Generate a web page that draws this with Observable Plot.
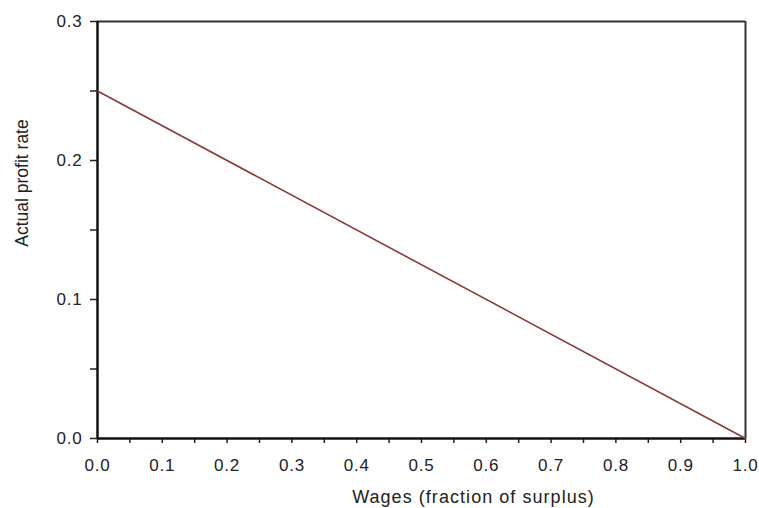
<!DOCTYPE html>
<html>
<head>
<meta charset="utf-8">
<script src="https://cdn.jsdelivr.net/npm/d3@7"></script>
<script src="https://cdn.jsdelivr.net/npm/@observablehq/plot@0.6"></script>
<style>
  html, body { margin: 0; padding: 0; background: #fff; }
  #chart svg { display: block; }
</style>
</head>
<body>
<div id="chart"></div>
<script>
// Data
const wages = [0, 1];
const profitRate = [0.25, 0];

// Tick values
const xMajorTicks = [0, 0.1, 0.2, 0.3, 0.4, 0.5, 0.6, 0.7, 0.8, 0.9, 1.0];
const xMinorTicks = [0.05, 0.15, 0.25, 0.35, 0.45, 0.55, 0.65, 0.75, 0.85, 0.95];
const yMajorTicks = [0, 0.1, 0.2, 0.3];
const yMinorTicks = [0.05, 0.15, 0.25];

const xLabel = "Wages (fraction of surplus)";
const yLabel = "Actual profit rate";

const data = wages.map((w, i) => ({wage: w, rate: profitRate[i]}));

const chart = Plot.plot({
  width: 759,
  height: 508,
  marginTop: 21,
  marginRight: 14,
  marginBottom: 70,
  marginLeft: 97,
  style: {fontFamily: "'Liberation Sans', Arial, sans-serif", background: "#fff", color: "#111"},
  x: {domain: [0, 1], label: null},
  y: {domain: [0, 0.3], label: null},
  marks: [
    // frame top/right
    Plot.ruleY([0.3], {stroke: "#333", strokeWidth: 2}),
    Plot.ruleX([1], {stroke: "#333", strokeWidth: 2}),
    // axes
    Plot.axisX({ticks: xMinorTicks, tickSize: 5, text: null, label: null, strokeWidth: 1.5, stroke: "#222"}),
    Plot.axisX({ticks: xMajorTicks, tickSize: 5, tickPadding: 15, tickFormat: d3.format(".1f"), fontSize: 17, strokeWidth: 1.5, stroke: "#222", fill: "#222", label: null}),
    Plot.axisY({ticks: yMinorTicks, tickSize: 7, text: null, label: null, strokeWidth: 1.5, stroke: "#222"}),
    Plot.axisY({ticks: yMajorTicks, tickSize: 7, tickPadding: 8, tickFormat: d3.format(".1f"), fontSize: 17, strokeWidth: 1.5, stroke: "#222", fill: "#222", label: null}),
    Plot.ruleX([0], {stroke: "#111", strokeWidth: 2.5}),
    Plot.ruleY([0], {stroke: "#111", strokeWidth: 2.5}),
    // data line
    Plot.line(data, {x: "wage", y: "rate", stroke: "#8a3a3a", strokeWidth: 1.6}),
    // axis titles
    Plot.text([xLabel], {frameAnchor: "bottom", dx: 52, dy: 59, text: d => d, fontSize: 18, fill: "#222", textAnchor: "middle", lineAnchor: "middle"}),
    Plot.text([yLabel], {frameAnchor: "left", dx: -75, dy: -47, rotate: -90, text: d => d, fontSize: 17.5, fill: "#222", textAnchor: "middle", lineAnchor: "middle"})
  ]
});

// letter spacing to match the reference's slightly wide type
d3.select(chart).selectAll("text").each(function() {
  const t = this.textContent;
  if (t === xLabel) this.style.letterSpacing = "1.05px";
  else if (/^\d\.\d$/.test(t)) this.style.letterSpacing = "0.8px";
});

document.getElementById("chart").appendChild(chart);
</script>
</body>
</html>
